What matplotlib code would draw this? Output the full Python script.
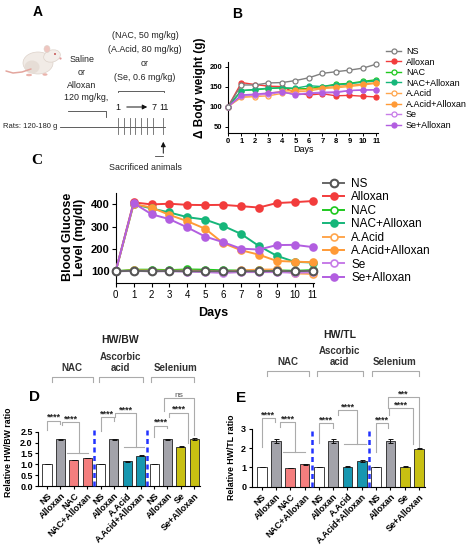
import matplotlib
matplotlib.use("Agg")
import matplotlib.pyplot as plt
from matplotlib.patches import Ellipse, Circle

plt.rcParams["font.family"] = ["Liberation Sans", "DejaVu Sans"]

# ─── data ────────────────────────────────────────────────────────────────────
days = list(range(12))
series_labels = ["NS", "Alloxan", "NAC", "NAC+Alloxan",
                 "A.Acid", "A.Acid+Alloxan", "Se", "Se+Alloxan"]

# panel B: delta body weight (g)
bw_ns         = [100, 154, 154, 159, 160, 165, 172, 183, 187, 191, 196, 206]
bw_alloxan    = [100, 160, 155, 151, 150, 134, 129, 132, 127, 128, 126, 124]
bw_nac        = [100, 140, 142, 145, 147, 144, 145, 150, 156, 158, 163, 167]
bw_nac_alx    = [100, 140, 143, 146, 147, 146, 152, 150, 154, 157, 161, 164]
bw_aacid      = [100, 123, 125, 127, 133, 137, 139, 145, 147, 150, 154, 158]
bw_aacid_alx  = [100, 126, 128, 133, 138, 141, 143, 147, 150, 153, 156, 160]
bw_se         = [100, 127, 129, 131, 136, 131, 134, 136, 137, 140, 142, 142]
bw_se_alx     = [100, 129, 131, 134, 137, 129, 133, 134, 135, 140, 141, 142]

# panel C: blood glucose (mg/dl)
gl_ns         = [100, 102, 100, 101, 100, 100, 100, 100, 100, 101, 100, 102]
gl_alloxan    = [100, 408, 399, 402, 397, 396, 397, 391, 385, 405, 409, 414]
gl_nac        = [100, 107, 107, 105, 108, 107, 104, 103, 104, 104, 102, 105]
gl_nac_alx    = [100, 400, 381, 363, 342, 331, 303, 267, 213, 169, 142, 139]
gl_aacid      = [100, 104, 103, 102, 103, 101, 98, 104, 107, 108, 90, 88]
gl_aacid_alx  = [100, 400, 385, 352, 324, 290, 226, 194, 174, 146, 143, 140]
gl_se         = [100, 101, 100, 100, 98, 96, 92, 96, 96, 96, 93, 95]
gl_se_alx     = [100, 405, 355, 333, 296, 255, 230, 201, 197, 217, 218, 208]

# panels D/E: relative heart weight ratios
bar_groups = ["NS", "Alloxan", "NAC", "NAC+Alloxan",
              "NS", "Alloxan", "A.Acid", "A.Acid+Alloxan",
              "NS", "Alloxan", "Se", "Se+Alloxan"]
hwbw     = [1.00, 2.16, 1.20, 1.29, 1.00, 2.16, 1.14, 1.39, 1.00, 2.16, 1.80, 2.15]
hwbw_err = [0.01, 0.02, 0.02, 0.02, 0.01, 0.02, 0.02, 0.03, 0.01, 0.02, 0.02, 0.04]
hwtl     = [1.02, 2.37, 0.97, 1.17, 1.02, 2.37, 1.03, 1.33, 1.02, 2.37, 1.03, 1.97]
hwtl_err = [0.02, 0.09, 0.02, 0.03, 0.02, 0.09, 0.02, 0.05, 0.02, 0.09, 0.02, 0.02]

# significance brackets: (x_left, x_right, y_top, y_left_end, y_right_end, label)
d_brackets = [(0, 1, 3.01, 2.58, 2.86, "****"),
              (1.12, 2.41, 2.93, 2.82, 1.50, "****"),
              (4, 5, 3.17, 2.55, 3.01, "****"),
              (5.1, 6.67, 3.35, 3.17, 1.81, "****"),
              (8, 9, 2.78, 2.27, 2.65, "****"),
              (9.1, 10.55, 3.38, 3.17, 1.97, "****"),
              (8.71, 11, 4.07, 3.44, 2.35, "ns")]
d_grouplines = [(1.49, 3.1, 1.50), (5.72, 7.22, 1.81)]
e_brackets = [(0, 0.9, 3.56, 2.07, 3.36, "****"),
              (1.28, 2.33, 3.36, 3.08, 1.81, "****"),
              (4, 5, 3.27, 2.24, 3.05, "****"),
              (5.36, 6.64, 3.95, 3.69, 2.20, "****"),
              (8, 8.85, 3.27, 1.78, 3.05, "****"),
              (8.92, 10.6, 4.06, 3.73, 2.20, "****"),
              (8.85, 11, 4.65, 4.06, 2.05, "***")]
e_grouplines = [(1.52, 3.03, 1.81), (5.76, 7.29, 2.20)]

series_colors = ["#7f7f7f", "#f23c3c", "#1ec81e", "#16b67a",
                 "#ffa64d", "#ff9a36", "#c77ce8", "#b25ee0"]
series_open = [True, False, True, False, True, False, True, False]
bar_colors = ["white", "#a3a3aa", "#f47e7e", "#f47e7e",
              "white", "#a3a3aa", "#1797b0", "#1797b0",
              "white", "#a3a3aa", "#c8c012", "#c8c012"]

W, H = 471, 550
fig = plt.figure(figsize=(W / 100, H / 100), dpi=100)


def px_axes(left, top, right, bottom):
    return fig.add_axes([left / W, 1 - bottom / H, (right - left) / W, (bottom - top) / H])


ov = fig.add_axes([0, 0, 1, 1])
ov.set_xlim(0, W)
ov.set_ylim(H, 0)
ov.axis("off")

# ─── A: schematic ────────────────────────────────────────────────────────────
narrow = ["Liberation Sans Narrow", "Liberation Sans", "DejaVu Sans"]
fsa = 6.4
ov.text(38, 12, "A", fontsize=10, fontweight="bold", ha="center", va="center")
ov.plot([31, 22, 13, 6], [69, 72, 73, 71], color="#e3a69e", lw=1.1, solid_capstyle="round")
ov.add_patch(Ellipse((38, 63), 30, 22, fc="#f1ebe6", ec="#ddd2ca", lw=0.5))
ov.add_patch(Ellipse((32, 67), 15, 13, fc="#e6ddd6", ec="none"))
ov.add_patch(Ellipse((52, 56), 17, 12, angle=-15, fc="#f3eeea", ec="#ddd2ca", lw=0.5))
ov.add_patch(Ellipse((47, 49), 6, 7, fc="#efc6c0", ec="#ddd2ca", lw=0.4))
ov.add_patch(Circle((55, 54), 0.9, fc="#b33"))
ov.add_patch(Circle((60.5, 58.5), 1.1, fc="#e39a9a"))
ov.add_patch(Ellipse((45, 74.5), 5, 2.5, fc="#eab3ab"))
ov.add_patch(Ellipse((29, 75), 6, 2.5, fc="#eab3ab"))

for txt, y in [("Saline", 60), ("or", 72.7), ("Alloxan", 85)]:
    ov.text(82, y, txt, fontsize=fsa, family=narrow, ha="center", va="center", color="#222")
ov.text(86, 98, "120 mg/kg,", fontsize=fsa, family=narrow, ha="center", va="center", color="#222")
ov.plot([68, 106, 106], [110.7, 110.7, 116.5], color="#444", lw=0.6)
for txt, y in [("(NAC, 50 mg/kg)", 35), ("(A.Acid, 80 mg/kg)", 49),
               ("or", 63), ("(Se, 0.6 mg/kg)", 77)]:
    ov.text(145, y, txt, fontsize=fsa, family=narrow, ha="center", va="center", color="#222")
ov.plot([117.5, 117.5, 164, 164], [92, 90.5, 90.5, 92], color="#444", lw=0.6)
ov.text(118, 107, "1", fontsize=fsa, family=narrow, ha="center", va="center", color="#111")
ov.annotate("", xy=(150, 107), xytext=(124, 107),
            arrowprops=dict(arrowstyle="-|>", color="#111", lw=0.7, mutation_scale=7))
ov.text(154, 107, "7", fontsize=fsa, family=narrow, ha="center", va="center", color="#111")
ov.text(164, 107, "11", fontsize=fsa, family=narrow, ha="center", va="center", color="#111")
ov.text(3, 126.5, "Rats: 120-180 g", fontsize=5.5, family=narrow, ha="left", va="center",
        color="#222")
ov.plot([60, 165], [126.5, 126.5], color="#444", lw=0.6)
for xt in [118.3, 124, 129.5, 135, 140.7, 146.7, 152.7, 163.3]:
    ov.plot([xt, xt], [117.5, 133.5], color="#666", lw=0.6)
ov.annotate("", xy=(163.3, 139), xytext=(163.3, 156),
            arrowprops=dict(arrowstyle="-|>", color="#111", lw=0.7, mutation_scale=7))
ov.plot([154.5, 163.3], [156, 156], color="#444", lw=0.6)
ov.text(145, 167, "Sacrificed animals", fontsize=fsa, family=narrow, ha="center", va="center",
        color="#222")

# ─── B: body weight ──────────────────────────────────────────────────────────
axb = px_axes(228, 61.7, 378.5, 132.7)
bw_all = [bw_ns, bw_alloxan, bw_nac, bw_nac_alx, bw_aacid, bw_aacid_alx, bw_se, bw_se_alx]
for lab, vals, col, op in zip(series_labels, bw_all, series_colors, series_open):
    axb.plot(days, vals, "-o", color=col, lw=1.0, ms=3.6, mew=0.9,
             mfc="white" if op else col, mec=col, label=lab, clip_on=False,
             zorder=4 if lab == "NS" else 3)
axb.set_xlim(0, 11.15)
axb.set_ylim(35, 212)
axb.set_xticks(days)
axb.set_yticks([50, 100, 150, 200])
for s in ["top", "right"]:
    axb.spines[s].set_visible(False)
axb.tick_params(labelsize=5.5, length=2.5, width=0.7, pad=1.5)
for lbl in axb.get_xticklabels() + axb.get_yticklabels():
    lbl.set_fontweight("bold")
axb.legend(loc="upper left", bbox_to_anchor=(386 / W, 1 - 47 / H), bbox_transform=fig.transFigure,
           frameon=False, fontsize=6.5, handlelength=1.7, handletextpad=0.5,
           labelspacing=0.17, borderpad=0, borderaxespad=0)
ov.text(237, 14, "B", fontsize=10, fontweight="bold", ha="center", va="center")
ov.text(200, 88, "Δ Body weight (g)", fontsize=8.5, fontweight="bold", rotation=90,
        ha="center", va="center")
ov.text(303, 150, "Days", fontsize=6.5, ha="center", va="center")

# ─── C: blood glucose ────────────────────────────────────────────────────────
axc = px_axes(115.7, 193, 313.5, 283.3)
gl_all = [gl_ns, gl_alloxan, gl_nac, gl_nac_alx, gl_aacid, gl_aacid_alx, gl_se, gl_se_alx]
for lab, vals, col, op in zip(series_labels, gl_all, series_colors, series_open):
    if lab == "NS":
        axc.plot(days, vals, "-o", color="#666666", lw=1.4, ms=5.5, mew=1.5,
                 mfc="white", mec="#555555", label=lab, clip_on=False, zorder=5)
    else:
        axc.plot(days, vals, "-o", color=col, lw=1.4, ms=5, mew=1.2,
                 mfc="white" if op else col, mec=col, label=lab, clip_on=False, zorder=3)
axc.set_xlim(0, 11.05)
axc.set_ylim(46, 450)
axc.set_xticks(days)
axc.set_yticks([100, 200, 300, 400])
for s in ["top", "right"]:
    axc.spines[s].set_visible(False)
axc.tick_params(axis="y", labelsize=8, length=3, width=0.8, pad=1.5)
axc.tick_params(axis="x", labelsize=7, length=3, width=0.8, pad=2)
for lbl in axc.get_yticklabels():
    lbl.set_fontweight("bold")
axc.legend(loc="upper left", bbox_to_anchor=(323 / W, 1 - 178 / H), bbox_transform=fig.transFigure,
           frameon=False, fontsize=8.5, handlelength=1.8, handletextpad=0.6,
           labelspacing=0.12, borderpad=0, borderaxespad=0)
ov.text(37, 160, "C", fontsize=11, fontweight="bold", family="Liberation Serif",
        ha="center", va="center")
ov.text(74, 237, "Blood Glucose\nLevel (mg/dl)", fontsize=9, fontweight="bold", rotation=90,
        ha="center", va="center", linespacing=1.1)
ov.text(213, 313, "Days", fontsize=9, fontweight="bold", ha="center", va="center")


# ─── D/E: bar panels ─────────────────────────────────────────────────────────
def bar_panel(ax, vals, errs, ylim, yticks, ytick_labels, brackets, grouplines,
              hdr_y, hdr_leg, txt_y, title_y, title, dash_top):
    xs = list(range(len(vals)))
    ax.bar(xs, vals, width=0.68, color=bar_colors, edgecolor="#222", linewidth=0.6, zorder=2)
    ax.errorbar(xs, vals, yerr=errs, fmt="none", ecolor="#111", elinewidth=0.7,
                capsize=1.8, capthick=0.7, zorder=3)
    for xd in [3.5, 7.5]:
        ax.plot([xd, xd], [0, dash_top], color="#2233ff", lw=1.8, ls=(0, (2, 1.4)),
                clip_on=False, zorder=4)
    gray = "#ababab"
    for x1, x2, yh, yl, yr, lab in brackets:
        ax.plot([x1, x1, x2, x2], [yl, yh, yh, yr], color=gray, lw=0.8, clip_on=False)
        ax.text((x1 + x2) / 2, yh + (ylim[1] * 0.012), lab, ha="center", va="baseline",
                fontsize=6 if lab == "ns" else 6.5, fontweight="normal" if lab == "ns" else "bold",
                color="#555" if lab == "ns" else "#222", clip_on=False)
    for x1, x2, y in grouplines:
        ax.plot([x1, x2], [y, y], color=gray, lw=0.8, clip_on=False)
    # treatment headers
    for (x1, x2), txt, tx in zip(hdr_leg["spans"], hdr_leg["texts"], hdr_leg["tx"]):
        ax.plot([x1, x1, x2, x2], [hdr_y - hdr_leg["leg"], hdr_y, hdr_y, hdr_y - hdr_leg["leg"]],
                color=gray, lw=0.8, clip_on=False)
        ax.text(tx, txt_y, txt, ha="center", va="center", fontsize=7, fontweight="bold",
                color="#333", linespacing=1.05, clip_on=False)
    ax.text(5.48, title_y, title, ha="center", va="center", fontsize=7.5, fontweight="bold",
            color="#222", clip_on=False)
    ax.set_xlim(-0.65, 11.4)
    ax.set_ylim(*ylim)
    ax.set_yticks(yticks)
    ax.set_yticklabels(ytick_labels)
    ax.set_xticks(xs)
    ax.set_xticklabels(bar_groups, rotation=45, ha="right", rotation_mode="anchor")
    for s in ["top", "right"]:
        ax.spines[s].set_visible(False)
    ax.tick_params(labelsize=6.5, length=2.5, width=0.8, pad=1.5)
    for lbl in ax.get_xticklabels() + ax.get_yticklabels():
        lbl.set_fontweight("bold")


axd = px_axes(38.3, 431.7, 199.6, 486)
bar_panel(axd, hwbw, hwbw_err, (0, 2.5), [0, 0.5, 1.0, 1.5, 2.0, 2.5],
          ["0.0", "0.5", "1.0", "1.5", "2.0", "2.5"], d_brackets, d_grouplines,
          5.0, {"spans": [(0.37, 3.4), (3.85, 7.17), (7.77, 11.0)],
                "texts": ["NAC", "Ascorbic\nacid", "Selenium"], "tx": [1.89, 5.48, 9.58],
                "leg": 0.2},
          5.44, 6.73, "HW/BW", 2.6)
axd.texts[-3].set_y(5.69)

axe = px_axes(251.7, 428.7, 424.7, 486.7)
bar_panel(axe, hwtl, hwtl_err, (0, 2.95), [0, 1, 2, 3], ["0", "1", "2", "3"],
          e_brackets, e_grouplines,
          5.96, {"spans": [(0.35, 3.3), (3.85, 7.1), (7.74, 11.0)],
                 "texts": ["NAC", "Ascorbic\nacid", "Selenium"], "tx": [1.86, 5.47, 9.32],
                 "leg": 0.24},
          6.43, 7.87, "HW/TL", 3.05)
axe.texts[-3].set_y(6.73)
axe.set_xlim(-0.7, 11.4)

ov.text(35, 397, "D", fontsize=11, fontweight="bold", ha="center", va="center")
ov.text(241, 398, "E", fontsize=11, fontweight="bold", ha="center", va="center")
ov.text(9, 452, "Relative HW/BW ratio", fontsize=6.3, fontweight="bold", rotation=90,
        ha="center", va="center")
ov.text(231, 457, "Relative HW/TL ratio", fontsize=6.3, fontweight="bold", rotation=90,
        ha="center", va="center")

fig.savefig("out.png", dpi=100)
